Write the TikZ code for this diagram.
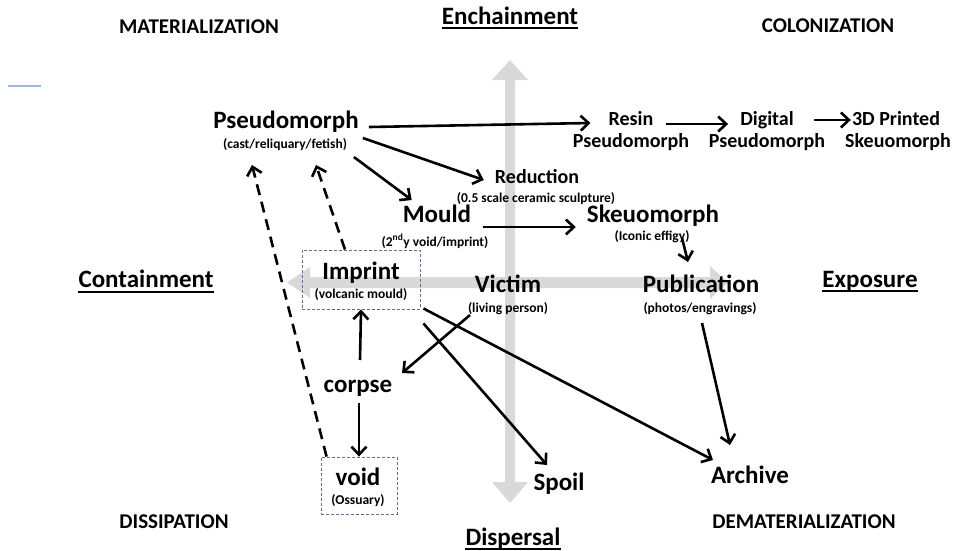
\documentclass[tikz,border=0pt]{standalone}
\usepackage{fontspec}
\setmainfont{Carlito}
\usetikzlibrary{arrows.meta}
\definecolor{axisgray}{HTML}{D9D9D9}
\definecolor{boxblue}{HTML}{5A7394}
\definecolor{strayblue}{HTML}{9DB8DC}
\tikzset{
  lbl/.style={anchor=base, inner sep=0pt, font=\bfseries\fontsize{25}{30}\selectfont},
  midlbl/.style={anchor=base, inner sep=0pt, font=\bfseries\fontsize{20}{24}\selectfont},
  sublbl/.style={anchor=base, inner sep=0pt, font=\bfseries\fontsize{13.5}{16}\selectfont},
  cornerlbl/.style={anchor=base, inner sep=0pt, font=\bfseries\fontsize{21}{25}\selectfont},
  conn/.style={line width=2.6pt, -{Straight Barb[length=8pt,width=15pt]}},
  dashconn/.style={conn, dash pattern=on 11pt off 7pt},
  dashbox/.style={draw=boxblue, line width=0.9pt, dash pattern=on 3pt off 2pt, inner sep=0pt},
  uline/.style={line width=1.8pt}
}
\begin{document}
\begin{tikzpicture}[x=1pt,y=-1pt]
\useasboundingbox (0,0) rectangle (953,550);
% stray blue line
\draw[strayblue, line width=1.3pt] (8,86) -- (41,86);
% gray axes
\fill[axisgray] (310,277) -- (710,277) -- (710,266) -- (728,282.5) -- (710,299) -- (710,288) -- (310,288) -- (310,298) -- (287,282.5) -- (310,267) -- cycle;
\fill[axisgray] (505,80) -- (505,482) -- (492,482) -- (510,503) -- (528,482) -- (515,482) -- (515,80) -- (528,80) -- (510,60) -- (492,80) -- cycle;
% corner labels
\node[cornerlbl] (mat) at (199,33) {MATERIALIZATION};
\node[cornerlbl] (colo) at (828,32) {COLONIZATION};
\node[cornerlbl] (diss) at (174,528) {DISSIPATION};
\node[cornerlbl] (demat) at (804,528) {DEMATERIALIZATION};
% axis labels
\node[lbl] (ench) at (510,24) {Enchainment};
\node[lbl] (cont) at (146,287) {Containment};
\node[lbl] (expo) at (870,287) {Exposure};
\node[lbl] (disp) at (513,545) {Dispersal};
\draw[uline] ([shift={(0,4)}]ench.base west) -- ([shift={(0,4)}]ench.base east);
\draw[uline] ([shift={(0,5)}]cont.base west) -- ([shift={(0,5)}]cont.base east);
\draw[uline] ([shift={(0,4)}]expo.base west) -- ([shift={(0,4)}]expo.base east);
\draw[uline] ([shift={(0,4)}]disp.base west) -- ([shift={(0,4)}]disp.base east);
% main nodes
\node[lbl] (pseudo) at (286,128) {Pseudomorph};
\node[sublbl] (pseudosub) at (285,148) {(cast/reliquary/fetish)};
\node[midlbl] (resin) at (631,125) {Resin};
\node[midlbl] (resinb) at (631,147) {Pseudomorph};
\node[midlbl] (digital) at (767,125) {Digital};
\node[midlbl] (digitalb) at (767,147) {Pseudomorph};
\node[midlbl] (threed) at (896,125) {3D Printed};
\node[midlbl] (threedb) at (898,147) {Skeuomorph};
\node[midlbl] (reduction) at (537,183) {Reduction};
\node[sublbl] (reductionsub) at (536,202) {(0.5 scale ceramic sculpture)};
\node[lbl] (mould) at (437,222) {Mould};
\node[sublbl] (mouldsub) at (435,246) {(2\textsuperscript{nd}y void/imprint)};
\node[lbl] (skeuo) at (653,222) {Skeuomorph};
\node[sublbl] (skeuosub) at (652,240) {(Iconic effigy)};
\node[dashbox, minimum width=118pt, minimum height=59pt] (imprintbox) at (361,279.5) {};
\node[lbl] (imprint) at (361,279) {Imprint};
\node[sublbl] (imprintsub) at (361,298) {(volcanic mould)};
\node[lbl] (victim) at (508,292) {Victim};
\node[sublbl] (victimsub) at (508,312) {(living person)};
\node[lbl] (pub) at (701,292) {Publication};
\node[sublbl] (pubsub) at (700,312) {(photos/engravings)};
\node[lbl] (corpse) at (358,392) {corpse};
\node[dashbox, minimum width=76pt, minimum height=57pt] (voidbox) at (359,485.5) {};
\node[lbl] (void) at (358,485) {void};
\node[sublbl] (voidsub) at (358,504) {(Ossuary)};
\node[lbl] (spoil) at (559,490) {Spoil};
\node[lbl] (archive) at (750,483) {Archive};
% connectors
\draw[conn] ([shift={(10,-1)}]pseudo.base east) -- ([shift={(-18,-2)}]resin.base west);
\draw[conn] ([shift={(12,-1)}]resin.base east) -- ([shift={(-12,-1)}]digital.base west);
\draw[conn] ([shift={(20,-5)}]digital.base east) -- ([shift={(-1,-5)}]threed.base west);
\draw[conn] ([shift={(4,10)}]pseudo.base east) -- ([shift={(-11,-3)}]reduction.base west);
\draw[conn] ([shift={(-5,29)}]pseudo.base east) -- ([shift={(9,-22)}]mould.base west);
\draw[conn] ([shift={(12,5)}]mould.base east) -- ([shift={(-11,5)}]skeuo.base west);
\draw[conn] ([shift={(30,-2)}]skeuosub.base) -- ([shift={(-13,-30)}]pub.base);
\draw[dashconn] ([shift={(-16,0)}]imprintbox.north) -- ([shift={(30,37)}]pseudo.base);
\draw[dashconn] ([shift={(6,0)}]voidbox.north west) -- ([shift={(-34,37)}]pseudo.base);
\draw[conn] ([shift={(2,-32)}]corpse.base) -- (imprintbox.south);
\draw[conn] ([shift={(1,11)}]corpse.base) -- (voidbox.north);
\draw[conn] ([shift={(-38,3)}]victimsub.base) -- ([shift={(44,-19)}]corpse.base);
\draw[conn] ([shift={(3,14)}]imprintbox.south east) -- ([shift={(-12,-25)}]spoil.base);
\draw[conn] ([shift={(3,-1)}]imprintbox.south east) -- ([shift={(-37,-23)}]archive.base);
\draw[conn] ([shift={(2,11)}]pubsub.base) -- ([shift={(-20,-38)}]archive.base);
\end{tikzpicture}
\end{document}
